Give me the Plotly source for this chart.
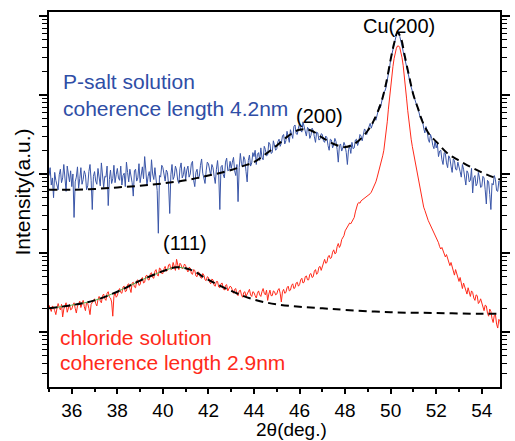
import plotly.graph_objects as go

# 2-theta sampling grid (deg), 0.05 deg step
two_theta = [round(35 + 0.05 * i, 2) for i in range(401)]

# P-salt solution, log10(intensity) (one row per degree)
p_salt_log10 = [
    1.98, 2.08, 1.86, 1.95, 1.70, 2.02, 1.92, 1.84, 1.80, 1.99, 2.06, 1.89, 1.95, 2.12, 1.88, 1.78, 2.10, 1.96, 1.90, 2.04,
    1.84, 2.00, 1.45, 1.90, 1.96, 2.09, 1.82, 1.94, 2.08, 1.87, 1.93, 2.04, 1.99, 1.80, 1.85, 2.03, 2.12, 1.92, 1.55, 1.97,
    2.03, 1.91, 1.87, 2.07, 1.98, 1.85, 2.14, 2.00, 1.83, 1.97, 1.96, 2.10, 1.60, 1.93, 2.05, 1.88, 1.94, 2.11, 1.89, 1.99,
    2.07, 1.95, 1.92, 2.10, 1.86, 1.98, 2.01, 1.84, 2.15, 2.02, 1.90, 2.06, 1.98, 1.89, 1.72, 2.04, 2.06, 1.91, 1.95, 2.13,
    1.89, 2.01, 2.09, 1.94, 2.22, 2.05, 1.85, 1.97, 2.03, 1.90, 2.18, 2.00, 1.93, 2.08, 1.88, 1.79, 1.25, 1.98, 1.96, 2.11,
    2.08, 1.96, 1.91, 2.05, 2.02, 1.86, 1.50, 1.99, 2.12, 1.93, 1.97, 2.10, 2.05, 1.92, 1.88, 2.07, 2.14, 1.95, 1.99, 2.09,
    1.93, 2.05, 2.10, 1.96, 2.00, 2.13, 2.16, 1.92, 1.84, 2.02, 2.06, 1.94, 1.97, 2.11, 2.19, 2.01, 1.95, 1.88, 2.04, 2.15,
    2.13, 2.02, 1.98, 2.12, 2.08, 1.97, 1.88, 2.06, 2.17, 2.00, 1.55, 2.09, 2.11, 1.99, 1.95, 2.15, 2.20, 2.04, 2.05, 2.16,
    2.07, 2.15, 2.21, 2.04, 1.98, 2.12, 1.65, 2.08, 2.26, 2.13, 2.09, 2.22, 2.18, 2.03, 1.90, 2.17, 2.24, 2.10, 2.14, 2.27,
    2.22, 2.30, 2.12, 2.25, 2.27, 2.17, 2.33, 2.21, 2.18, 2.35, 2.31, 2.23, 2.24, 2.40, 2.38, 2.26, 2.27, 2.42, 2.36, 2.30,
    2.32, 2.41, 2.44, 2.35, 2.39, 2.48, 2.50, 2.38, 2.42, 2.54, 2.47, 2.40, 2.56, 2.49, 2.45, 2.60, 2.62, 2.51, 2.50, 2.58,
    2.64, 2.55, 2.53, 2.66, 2.60, 2.50, 2.48, 2.59, 2.57, 2.45, 2.49, 2.58, 2.55, 2.47, 2.40, 2.53, 2.52, 2.43, 2.44, 2.51,
    2.50, 2.42, 2.40, 2.48, 2.46, 2.36, 2.30, 2.44, 2.43, 2.33, 2.37, 2.45, 2.41, 2.31, 2.15, 2.36, 2.38, 2.29, 2.33, 2.40,
    2.36, 2.27, 2.12, 2.31, 2.35, 2.26, 2.40, 2.32, 2.33, 2.43, 2.44, 2.36, 2.41, 2.50, 2.48, 2.42, 2.50, 2.57, 2.55, 2.50,
    2.56, 2.62, 2.64, 2.58, 2.63, 2.70, 2.72, 2.68, 2.74, 2.81, 2.86, 2.84, 2.90, 2.98, 3.04, 3.05, 3.10, 3.19, 3.26, 3.34,
    3.45, 3.52, 3.58, 3.65, 3.70, 3.76, 3.79, 3.78, 3.74, 3.69, 3.62, 3.55, 3.48, 3.41, 3.34, 3.28, 3.22, 3.15, 3.10, 3.05,
    3.00, 2.93, 2.90, 2.86, 2.83, 2.76, 2.71, 2.72, 2.67, 2.58, 2.52, 2.60, 2.55, 2.44, 2.40, 2.50, 2.45, 2.36, 2.32, 2.42,
    2.33, 2.38, 2.22, 2.29, 2.30, 2.18, 2.12, 2.27, 2.26, 2.14, 2.08, 2.23, 2.20, 2.10, 2.02, 2.19, 2.17, 2.06, 2.05, 2.15,
    2.10, 2.03, 1.96, 2.12, 2.06, 1.94, 1.86, 2.04, 2.01, 1.90, 1.92, 2.07, 1.76, 1.95, 1.98, 1.85, 1.88, 2.02, 1.95, 1.83,
    1.84, 1.97, 1.95, 1.80, 1.62, 1.92, 1.90, 1.74, 1.55, 1.88, 1.86, 1.98, 1.93, 1.79, 1.78, 1.91, 1.89, 1.70, 1.82, 1.93,
    1.85,
]

# chloride solution, log10(intensity)
chloride_log10 = [
    0.34, 0.29, 0.26, 0.33, 0.31, 0.27, 0.22, 0.30, 0.36, 0.31, 0.28, 0.35, 0.19, 0.29, 0.33, 0.37, 0.25, 0.32, 0.35, 0.28,
    0.29, 0.34, 0.37, 0.30, 0.24, 0.33, 0.35, 0.39, 0.31, 0.36, 0.40, 0.32, 0.27, 0.38, 0.36, 0.30, 0.22, 0.35, 0.38, 0.41,
    0.42, 0.36, 0.33, 0.41, 0.45, 0.39, 0.37, 0.46, 0.48, 0.42, 0.40, 0.49, 0.51, 0.44, 0.43, 0.38, 0.20, 0.45, 0.50, 0.44,
    0.46, 0.52, 0.55, 0.50, 0.49, 0.57, 0.58, 0.51, 0.52, 0.60, 0.61, 0.55, 0.50, 0.62, 0.63, 0.57, 0.56, 0.65, 0.66, 0.59,
    0.60, 0.67, 0.69, 0.62, 0.63, 0.71, 0.72, 0.66, 0.66, 0.74, 0.75, 0.69, 0.68, 0.77, 0.79, 0.72, 0.71, 0.81, 0.80, 0.74,
    0.74, 0.80, 0.83, 0.77, 0.78, 0.85, 0.86, 0.79, 0.80, 0.88, 0.84, 0.78, 0.92, 0.83, 0.79, 0.87, 0.85, 0.80, 0.82, 0.86,
    0.84, 0.79, 0.76, 0.82, 0.81, 0.74, 0.73, 0.79, 0.78, 0.71, 0.70, 0.76, 0.75, 0.69, 0.68, 0.74, 0.72, 0.66, 0.65, 0.70,
    0.69, 0.63, 0.61, 0.67, 0.66, 0.59, 0.58, 0.64, 0.64, 0.57, 0.56, 0.61, 0.62, 0.55, 0.53, 0.59, 0.60, 0.52, 0.55, 0.58,
    0.57, 0.52, 0.49, 0.54, 0.55, 0.48, 0.46, 0.52, 0.53, 0.47, 0.44, 0.50, 0.51, 0.45, 0.48, 0.53, 0.54, 0.47, 0.45, 0.51,
    0.50, 0.46, 0.43, 0.49, 0.52, 0.47, 0.45, 0.51, 0.55, 0.49, 0.47, 0.53, 0.40, 0.48, 0.53, 0.46, 0.46, 0.52, 0.51, 0.47,
    0.48, 0.53, 0.55, 0.49, 0.38, 0.51, 0.54, 0.49, 0.50, 0.56, 0.58, 0.52, 0.53, 0.59, 0.61, 0.55, 0.56, 0.62, 0.63, 0.58,
    0.60, 0.66, 0.68, 0.62, 0.63, 0.70, 0.71, 0.66, 0.66, 0.73, 0.74, 0.69, 0.70, 0.77, 0.79, 0.73, 0.75, 0.82, 0.83, 0.78,
    0.84, 0.89, 0.92, 0.87, 0.88, 0.95, 0.97, 0.93, 0.94, 1.01, 1.04, 0.99, 1.00, 1.08, 1.12, 1.07, 1.10, 1.17, 1.20, 1.22,
    1.28, 1.31, 1.33, 1.36, 1.38, 1.37, 1.40, 1.43, 1.45, 1.52, 1.58, 1.62, 1.64, 1.63, 1.66, 1.67, 1.68, 1.69, 1.70, 1.71,
    1.72, 1.73, 1.75, 1.77, 1.80, 1.83, 1.86, 1.90, 1.95, 2.00, 2.05, 2.11, 2.17, 2.23, 2.30, 2.40, 2.52, 2.66, 2.82, 2.97,
    3.12, 3.25, 3.36, 3.46, 3.53, 3.59, 3.62, 3.62, 3.60, 3.55, 3.47, 3.37, 3.25, 3.10, 2.95, 2.80, 2.65, 2.54, 2.44, 2.35,
    2.27, 2.18, 2.10, 2.02, 1.94, 1.86, 1.78, 1.71, 1.64, 1.58, 1.54, 1.49, 1.45, 1.41, 1.38, 1.35, 1.31, 1.28, 1.26, 1.22,
    1.18, 1.16, 1.13, 1.08, 1.05, 1.07, 1.03, 0.97, 0.95, 0.98, 0.93, 0.87, 0.84, 0.88, 0.82, 0.76, 0.72, 0.79, 0.74, 0.67,
    0.64, 0.69, 0.59, 0.55, 0.62, 0.57, 0.52, 0.48, 0.56, 0.50, 0.45, 0.52, 0.50, 0.43, 0.40, 0.47, 0.46, 0.36, 0.38, 0.42,
    0.36, 0.30, 0.27, 0.34, 0.33, 0.24, 0.20, 0.29, 0.26, 0.17, 0.12, 0.21, 0.22, 0.10, 0.05, 0.16, 0.14, 0.02, -0.05, 0.09,
    0.02,
]

# fitted profiles (dashed), log10(intensity)
p_fit_theta = [35.0, 36.0, 37.0, 38.0, 39.0, 40.0, 41.0, 42.0, 43.0, 43.5, 44.0,
               44.5, 45.0, 45.5, 46.0, 46.5, 47.0, 47.5, 48.0, 48.5, 49.0, 49.3,
               49.6, 49.8, 50.0, 50.15, 50.3, 50.45, 50.6, 50.8, 51.0, 51.2,
               51.4, 51.7, 52.0, 52.5, 53.0, 53.5, 54.0, 54.5, 55.0]
p_fit_log10 = [1.80, 1.80, 1.81, 1.83, 1.85, 1.88, 1.92, 1.98, 2.05, 2.10, 2.15,
               2.25, 2.36, 2.48, 2.56, 2.55, 2.46, 2.38, 2.34, 2.40, 2.55, 2.70,
               2.92, 3.15, 3.45, 3.65, 3.79, 3.72, 3.52, 3.25, 3.00, 2.83,
               2.66, 2.50, 2.41, 2.26, 2.17, 2.09, 2.02, 1.96, 1.91]

c_fit_theta = [35.0, 36.0, 37.0, 38.0, 39.0, 40.0, 40.6, 41.2, 42.0, 43.0, 44.0,
               45.0, 46.0, 47.0, 48.0, 50.0, 52.0, 54.0, 55.0]
c_fit_log10 = [0.30, 0.34, 0.40, 0.51, 0.65, 0.77, 0.82, 0.79, 0.66, 0.52, 0.41,
               0.35, 0.32, 0.30, 0.28, 0.25, 0.24, 0.23, 0.23]

x_ticks = [36, 38, 40, 42, 44, 46, 48, 50, 52, 54]

BLUE = "#3a56a8"
BLUE_TXT = "#2f4ea6"
RED = "#ff2a1a"
FONT = "Arial, Liberation Sans, sans-serif"

def lin(v):
    return [10 ** a for a in v]

fig = go.Figure()
fig.add_trace(go.Scatter(x=two_theta, y=lin(p_salt_log10), mode="lines",
                         line=dict(color=BLUE, width=1), showlegend=False))
fig.add_trace(go.Scatter(x=two_theta, y=lin(chloride_log10), mode="lines",
                         line=dict(color=RED, width=1), showlegend=False))
green_n = 8
fig.add_trace(go.Scatter(x=c_fit_theta[:green_n], y=lin(c_fit_log10[:green_n]), mode="lines",
                         line=dict(color="#4caf50", width=1, shape="spline"), showlegend=False))
fig.add_trace(go.Scatter(x=p_fit_theta, y=lin(p_fit_log10), mode="lines",
                         line=dict(color="black", width=2, dash="8px,5px", shape="spline"),
                         showlegend=False))
fig.add_trace(go.Scatter(x=c_fit_theta, y=lin(c_fit_log10), mode="lines",
                         line=dict(color="black", width=2, dash="8px,5px", shape="spline"),
                         showlegend=False))

W, H = 515, 441
L, R, T, B = 49, 510, 12, 387

def px(xp):
    return (xp - L) / (R - L)

def py(yp):
    return (B - yp) / (B - T)

annots = [
    ("P-salt solution", 61, 82, BLUE_TXT, 21, "left"),
    ("coherence length 4.2nm", 61, 108, BLUE_TXT, 21, "left"),
    ("chloride solution", 58, 337, RED, 21, "left"),
    ("coherence length 2.9nm", 58, 362, RED, 21, "left"),
    ("(111)", 188, 243, "black", 20, "center"),
    ("(200)", 326, 116, "black", 20, "center"),
    ("Cu(200)", 407, 26, "black", 20, "center"),
]
for text, xp, yp, col, sz, anc in annots:
    fig.add_annotation(text=text, x=px(xp), y=py(yp), xref="paper", yref="paper",
                       xanchor=anc, yanchor="middle", showarrow=False,
                       font=dict(family=FONT, size=sz, color=col))

fig.add_annotation(text="2θ(deg.)", x=px(297), y=py(441), xref="paper", yref="paper",
                   xanchor="center", yanchor="bottom", showarrow=False, borderpad=0,
                   font=dict(family=FONT, size=19, color="black"))
fig.add_annotation(text="Intensity(a.u.)", x=px(21), y=py(192), xref="paper", yref="paper",
                   xanchor="center", yanchor="middle", showarrow=False, textangle=-90,
                   font=dict(family=FONT, size=21, color="black"))

fig.update_layout(
    width=W, height=H,
    margin=dict(l=L, r=W - R, t=T, b=H - B, pad=0),
    paper_bgcolor="white", plot_bgcolor="white",
    font=dict(family=FONT, color="black"),
    xaxis=dict(range=[35, 54.8], tickvals=x_ticks, ticktext=[str(t) for t in x_ticks],
               ticks="outside", ticklen=5, tickwidth=1.5, tickcolor="black",
               minor=dict(dtick=2, tick0=35, ticks="outside", ticklen=3, tickwidth=1.5,
                          tickcolor="black"),
               showline=True, linewidth=2, linecolor="black", mirror=True,
               showgrid=False, zeroline=False, tickfont=dict(size=19, family=FONT)),
    yaxis=dict(type="log", range=[-0.696, 4.05], dtick=1, showticklabels=False,
               ticks="outside", ticklen=8, tickwidth=1.5, tickcolor="black",
               minor=dict(dtick="D1", ticks="outside", ticklen=5, tickwidth=1.2,
                          tickcolor="black", showgrid=False),
               showline=True, linewidth=2, linecolor="black", mirror="ticks",
               showgrid=False, zeroline=False),
)

fig.write_html("out.html", config={"displayModeBar": False},
               post_script="document.body.style.margin='0px';")
